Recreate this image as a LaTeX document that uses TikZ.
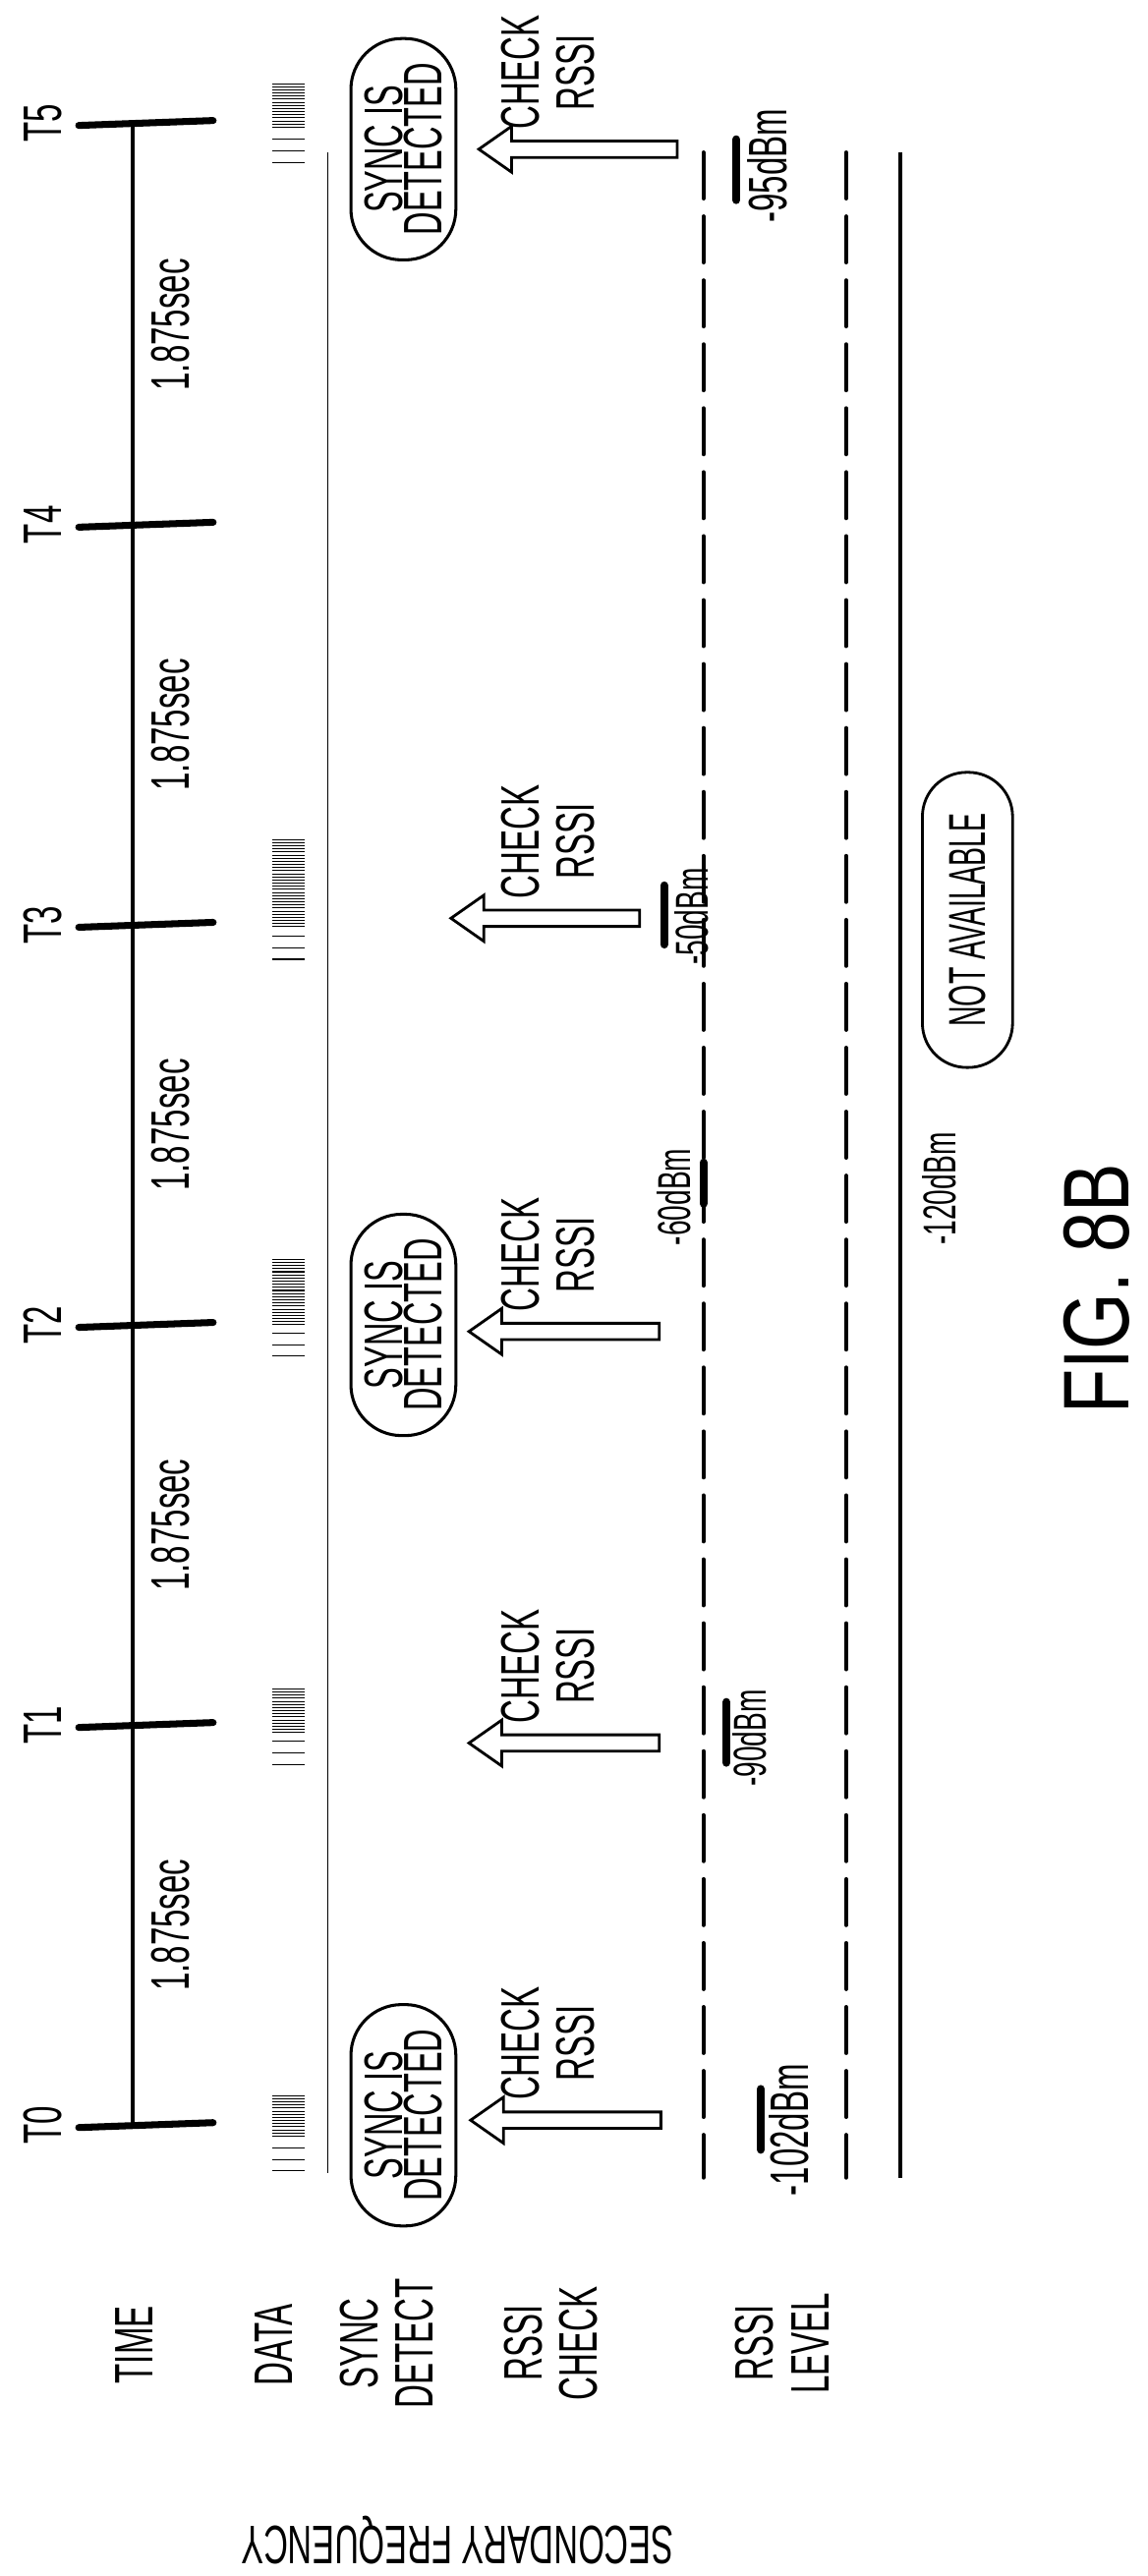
\documentclass[tikz,border=0pt]{standalone}
\usepackage{fontspec}
\usepackage{graphicx}
\setmainfont{Liberation Sans}
\newcommand\cnd[2][0.6]{\scalebox{#1}[1]{#2}}
\begin{document}
\begin{tikzpicture}[x=0.5mm,y=-0.5mm,
  lbl/.style={rotate=90,font=\fontsize{47}{48}\selectfont,inner sep=0pt,align=center},
  sml/.style={rotate=90,font=\fontsize{40}{42}\selectfont,inner sep=0pt,align=center},
  stadium/.style={draw,line width=2.6pt,rounded corners=31*0.5mm,minimum height=64*0.5mm,minimum width=135*0.5mm,inner sep=0pt},
  tickmark/.style={line width=6pt,line cap=round},
  level/.style={line width=3.6pt,line cap=round,dash pattern=on 14mm off 5.5mm},
  bar/.style={line width=7pt,line cap=round},
  datal/.style={line width=0.9pt},
  hollow/.style={draw,line width=2.4pt,fill=white,line join=miter}]
\useasboundingbox (0,0) rectangle (700,1571);
\fill[white] (0,0) rectangle (700,1571);
% time axis
\coordinate (ax0) at (81,1296);
\coordinate (ax5) at (81,75);
\draw[line width=4pt] (ax5) -- (ax0);
\foreach \i/\y in {0/1296,1/1052,2/808,3/564,4/320,5/75}{
  \coordinate (tl\i) at (48,\y+1.5);
  \coordinate (tr\i) at (130,\y-1.5);
  \draw[tickmark] (tl\i) -- (tr\i);
  \node[lbl] (T\i) at (26,\y) {\cnd{T\i}};
}
\foreach \i/\y in {0/1174,1/930,2/686,3/442,4/198}{
  \node[lbl] (sec\i) at (104,\y) {\cnd{1.875sec}};
}
% data bars
\foreach \n/\a/\b/\s in {0/1278/1304/1310,1/1030/1058/1062,2/768/808/813,3/512/567/571,5/51/78/85}{
  \pgfmathtruncatemacro\cnt{(\b-\a)/1.9}
  \foreach \j in {0,...,\cnt}{\draw[datal] (166,\a+1.9*\j) -- (186,\a+1.9*\j);}
  \foreach \k in {0,7,14}{\draw[datal] (166,\s+\k) -- (186,\s+\k);}
}
% thin line
\coordinate (th1) at (200,93); \coordinate (th2) at (200,1325);
\draw[line width=1pt] (th1) -- (th2);
% sync detected
\foreach \n/\y in {0/1290,2/808,5/91}{
  \node[stadium,font=\fontsize{47}{34}\selectfont,rotate=90,align=center] (sync\n) at (246,\y) {\cnd[0.59]{SYNC IS}\\\cnd[0.59]{DETECTED}};
}
% check rssi arrows
\foreach \n/\y/\t/\e in {0/1293/287/403,1/1063/286/402,2/812/286/402,3/560/275/390,5/91/292/413}{
  \draw[hollow] (\t,\y) -- (\t+20,\y-14) -- (\t+20,\y-5) -- (\e,\y-5) -- (\e,\y+5) -- (\t+20,\y+5) -- (\t+20,\y+14) -- cycle;
  \node[lbl,anchor=west] (chk\n) at (334,\y-12) {\cnd{CHECK}\\\cnd{RSSI}};
}
% levels
\coordinate (d1a) at (429,93); \coordinate (d1b) at (429,1328);
\coordinate (d2a) at (516,93); \coordinate (d2b) at (516,1328);
\coordinate (s1a) at (549,93); \coordinate (s1b) at (549,1328);
\draw[level] (d1a) -- (d1b);
\draw[level] (d2a) -- (d2b);
\draw[line width=3.6pt] (s1a) -- (s1b);
% dBm labels
\node[lbl] (m102) at (481,1299) {\cnd{-102dBm}};
\draw[bar] (464,1274) -- (464,1311);
\node[lbl] (m95) at (468,101) {\cnd{-95dBm}};
\draw[bar] (449,85) -- (449,122);
\node[sml] (m90) at (457,1060) {\cnd{-90dBm}};
\draw[bar] (443,1038) -- (443,1075);
\node[sml] (m50) at (422,559) {\cnd{-50dBm}};
\draw[bar] (405,540) -- (405,576);
\node[sml] (m60) at (411,730) {\cnd{-60dBm}};
\draw[bar] (429,709) -- (429,734);
\node[sml] (m120) at (573,725) {\cnd{-120dBm}};
\node[draw,line width=2.4pt,rotate=90,rounded corners=27*0.5mm,minimum height=55*0.5mm,minimum width=180*0.5mm,inner sep=0pt,font=\fontsize{45}{46}\selectfont] (na) at (590,561) {\cnd[0.54]{NOT AVAILABLE}};
\node[rotate=90,inner sep=0pt,font=\fontsize{81}{82}\selectfont] (fig) at (669,786) {\cnd[0.78]{FIG. 8B}};
% row labels
\node[lbl] (lt) at (82,1430) {\cnd{TIME}};
\node[lbl] (ld) at (167,1430) {\cnd{DATA}};
\node[lbl] (ls) at (236,1429) {\cnd{SYNC}\\\cnd{DETECT}};
\node[lbl] (lr) at (336,1429) {\cnd{RSSI}\\\cnd{CHECK}};
\node[lbl] (ll) at (477,1429) {\cnd{RSSI}\\\cnd{LEVEL}};
\node[rotate=180,inner sep=0pt,font=\fontsize{47}{48}\selectfont] (sf) at (279,1549) {\cnd[0.62]{SECONDARY FREQUENCY}};
\end{tikzpicture}
\end{document}
